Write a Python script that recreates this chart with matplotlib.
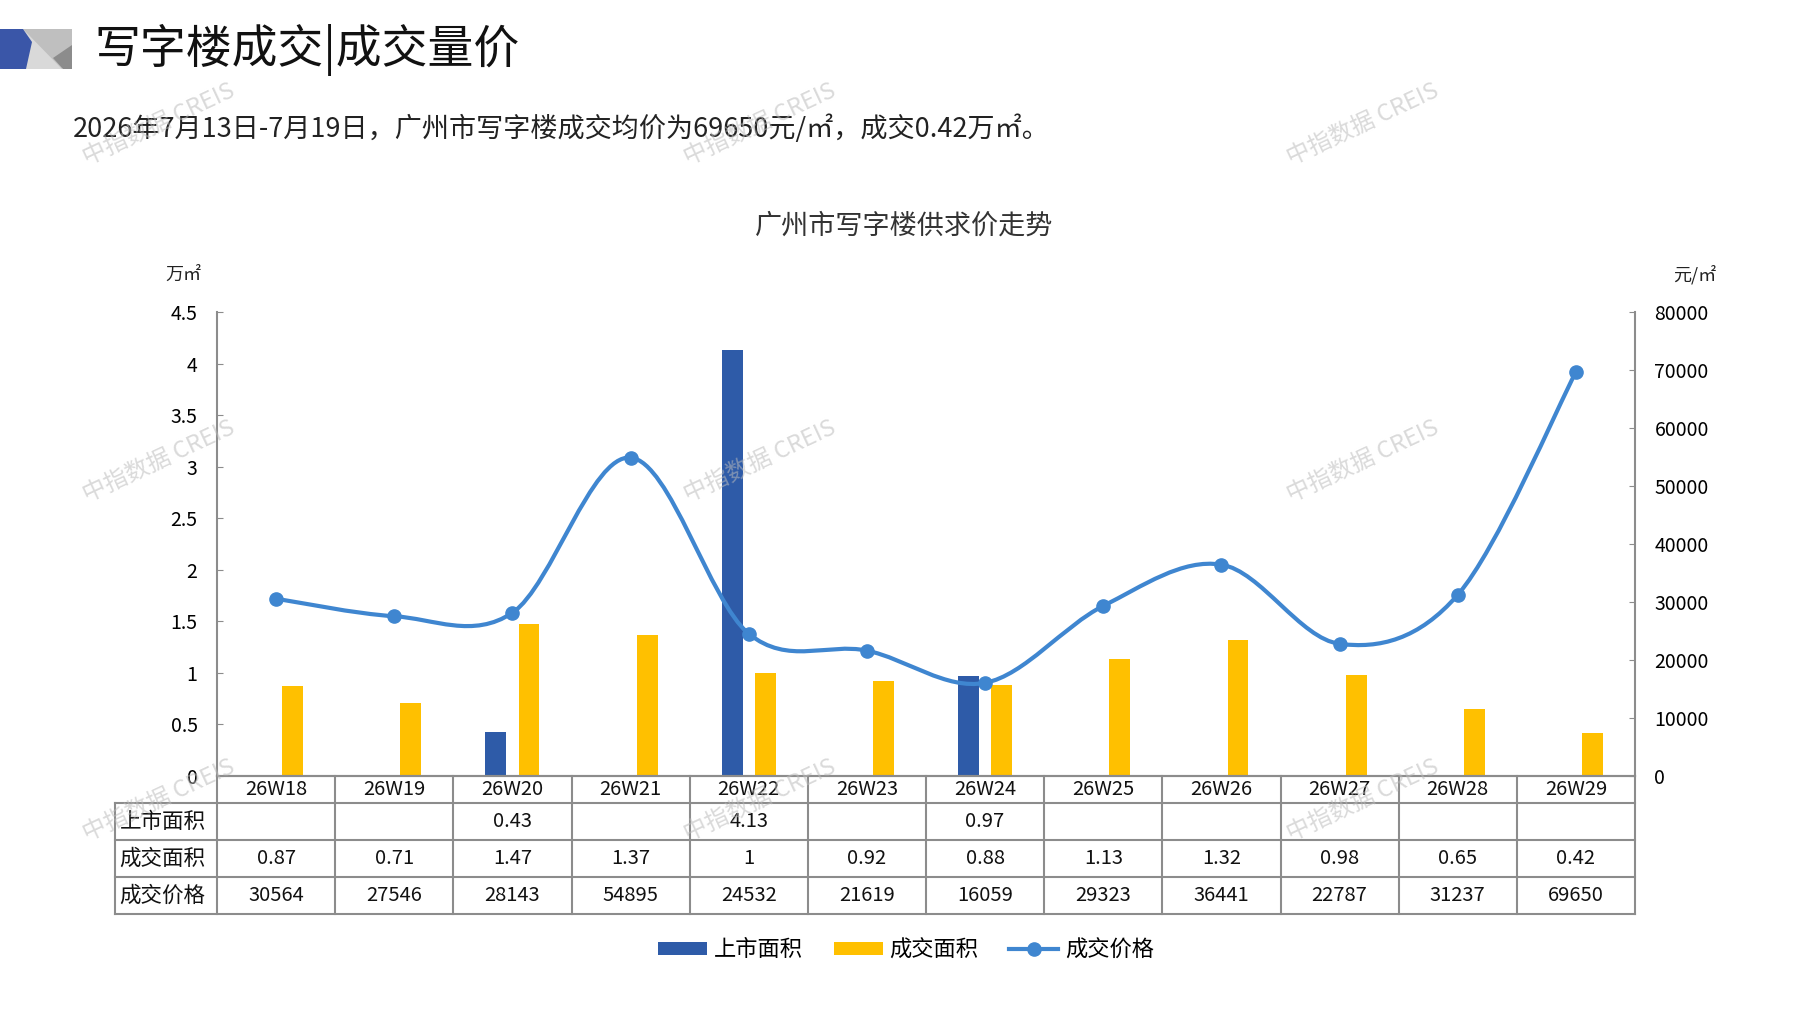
import numpy as np
import matplotlib
matplotlib.use('Agg')
import matplotlib.pyplot as plt
from matplotlib.path import Path
from matplotlib.patches import PathPatch, Patch, Polygon
from matplotlib.lines import Line2D
from matplotlib.transforms import blended_transform_factory

plt.rcParams['font.family'] = ['Noto Sans CJK SC', 'DejaVu Sans']

# 数据
weeks = ['26W18', '26W19', '26W20', '26W21', '26W22', '26W23',
         '26W24', '26W25', '26W26', '26W27', '26W28', '26W29']
supply_area = [np.nan, np.nan, 0.43, np.nan, 4.13, np.nan,
               0.97, np.nan, np.nan, np.nan, np.nan, np.nan]
deal_area = [0.87, 0.71, 1.47, 1.37, 1, 0.92, 0.88, 1.13, 1.32, 0.98, 0.65, 0.42]
deal_price = [30564, 27546, 28143, 54895, 24532, 21619,
              16059, 29323, 36441, 22787, 31237, 69650]
row_names = ['上市面积', '成交面积', '成交价格']
series_names = ['上市面积', '成交面积', '成交价格']

c_blue = '#2E5BA8'
c_yellow = '#FFC000'
c_line = '#3F86D0'
c_grid = '#8C8C8C'

W, H = 1797, 1010
fig = plt.figure(figsize=(W / 100, H / 100), dpi=100)

# 背景层，像素坐标
bg = fig.add_axes([0, 0, 1, 1], zorder=-1)
bg.set_xlim(0, W)
bg.set_ylim(H, 0)
bg.axis('off')

# 左上角图标
bg.add_patch(Polygon([(23, 29), (72, 29), (72, 69), (23, 69)], closed=True, color='#D9D9D9', lw=0))
bg.add_patch(Polygon([(23, 29), (72, 29), (72, 45), (62, 69)], closed=True, color='#BFBFBF', lw=0))
bg.add_patch(Polygon([(72, 45), (53, 58), (63, 69), (72, 69)], closed=True, color='#8C8C8C', lw=0))
bg.add_patch(Polygon([(0, 29), (23, 29), (32, 42), (26, 69), (0, 69)], closed=True, color='#3A56A8', lw=0))

bg.text(94, 50, '写字楼成交|成交量价', fontsize=33, va='center', ha='left', color='#111111')
bg.text(73, 129, '2026年7月13日-7月19日，广州市写字楼成交均价为69650元/㎡，成交0.42万㎡。',
        fontsize=19.5, va='center', ha='left', color='#222222')
bg.text(904, 226, '广州市写字楼供求价走势', fontsize=19.5, va='center', ha='center', color='#333333')
bg.text(165, 275, '万㎡', fontsize=13, va='center', ha='left', color='#222222')
bg.text(1673, 275, '元/㎡', fontsize=13, va='center', ha='left', color='#222222')

# 主图
left, right, top, bottom = 217, 1635, 312, 776
ax = fig.add_axes([left / W, 1 - bottom / H, (right - left) / W, (bottom - top) / H])
x = np.arange(len(weeks))
ax.bar(x - 0.14, supply_area, width=0.177, color=c_blue, zorder=2)
ax.bar(x + 0.14, deal_area, width=0.177, color=c_yellow, zorder=2)
ax.set_xlim(-0.5, len(weeks) - 0.5)
ax.set_ylim(0, 4.5)
ax.set_yticks(np.arange(0, 4.51, 0.5))
ax.set_yticklabels(['%g' % v for v in np.arange(0, 4.51, 0.5)])
ax.set_xticks([])
ax.tick_params(axis='y', direction='in', length=4, color=c_grid, labelsize=14, pad=14)
for s in ['top', 'right']:
    ax.spines[s].set_visible(False)
for s in ['left', 'bottom']:
    ax.spines[s].set_color(c_grid)
    ax.spines[s].set_linewidth(1.5)
ax.patch.set_alpha(0)

ax2 = ax.twinx()
ax2.set_ylim(0, 80000)
ax2.set_yticks(np.arange(0, 80001, 10000))
ax2.tick_params(axis='y', direction='in', length=4, color=c_grid, labelsize=14, pad=14)
for s in ['top', 'left', 'bottom']:
    ax2.spines[s].set_visible(False)
ax2.spines['right'].set_color(c_grid)
ax2.spines['right'].set_linewidth(1.5)


def smooth_path(xs, ys):
    pts = np.column_stack([xs, ys]).astype(float)
    n = len(pts)
    verts = [pts[0]]
    codes = [Path.MOVETO]
    for i in range(n - 1):
        p0 = pts[max(i - 1, 0)]
        p1 = pts[i]
        p2 = pts[i + 1]
        p3 = pts[min(i + 2, n - 1)]
        verts += [p1 + (p2 - p0) / 6, p2 - (p3 - p1) / 6, p2]
        codes += [Path.CURVE4] * 3
    return Path(verts, codes)


ax2.add_patch(PathPatch(smooth_path(x, deal_price), facecolor='none',
                        edgecolor=c_line, lw=3, zorder=3))
ax2.plot(x, deal_price, 'o', color=c_line, ms=9.5, zorder=4)

# 下方数据表
tr = blended_transform_factory(ax.transData, bg.transData)
row_edges = [776, 803, 840, 877, 914]
lab_left = -0.5 - (left - 115) / ((right - left) / len(weeks))
kw = dict(transform=tr, color=c_grid, lw=1.5, clip_on=False, zorder=5)
ax.plot([-0.5, len(weeks) - 0.5], [row_edges[0]] * 2, **kw)
for ry in row_edges[1:]:
    ax.plot([lab_left, len(weeks) - 0.5], [ry, ry], **kw)
for i in range(len(weeks) + 1):
    ax.plot([i - 0.5, i - 0.5], [row_edges[0], row_edges[-1]], **kw)
ax.plot([lab_left, lab_left], [row_edges[1], row_edges[-1]], **kw)

rows = [
    ['' if np.isnan(v) else '%g' % v for v in supply_area],
    ['%g' % v for v in deal_area],
    ['%d' % v for v in deal_price],
]
tkw = dict(transform=tr, va='center', color='#111111', clip_on=False)
for i, w in enumerate(weeks):
    ax.text(i, (row_edges[0] + row_edges[1]) / 2, w, ha='center', fontsize=14.5, **tkw)
for r, (name, vals) in enumerate(zip(row_names, rows)):
    yc = (row_edges[r + 1] + row_edges[r + 2]) / 2
    ax.text(lab_left + 0.04, yc, name, ha='left', fontsize=15.5, **tkw)
    for i, v in enumerate(vals):
        ax.text(i, yc, v, ha='center', fontsize=14.5, **tkw)

# 图例
handles = [
    Patch(facecolor=c_blue, edgecolor='none', label=series_names[0]),
    Patch(facecolor=c_yellow, edgecolor='none', label=series_names[1]),
    Line2D([0], [0], color=c_line, lw=3, marker='o', ms=9.5, label=series_names[2]),
]
fig.legend(handles=handles, loc='center', bbox_to_anchor=(906 / W, 1 - 950 / H), ncol=3,
           frameon=False, fontsize=16, handlelength=2.2, handleheight=0.55,
           handletextpad=0.3, columnspacing=1.4)

# 水印
for wy in [124, 461, 800]:
    for wx in [159, 760, 1363]:
        fig.text(wx / W, 1 - wy / H, '中指数据 CREIS', fontsize=17, rotation=25,
                 ha='center', va='center', color='#BBBBBB', alpha=0.55, zorder=10)

fig.savefig('out.png', dpi=100)
